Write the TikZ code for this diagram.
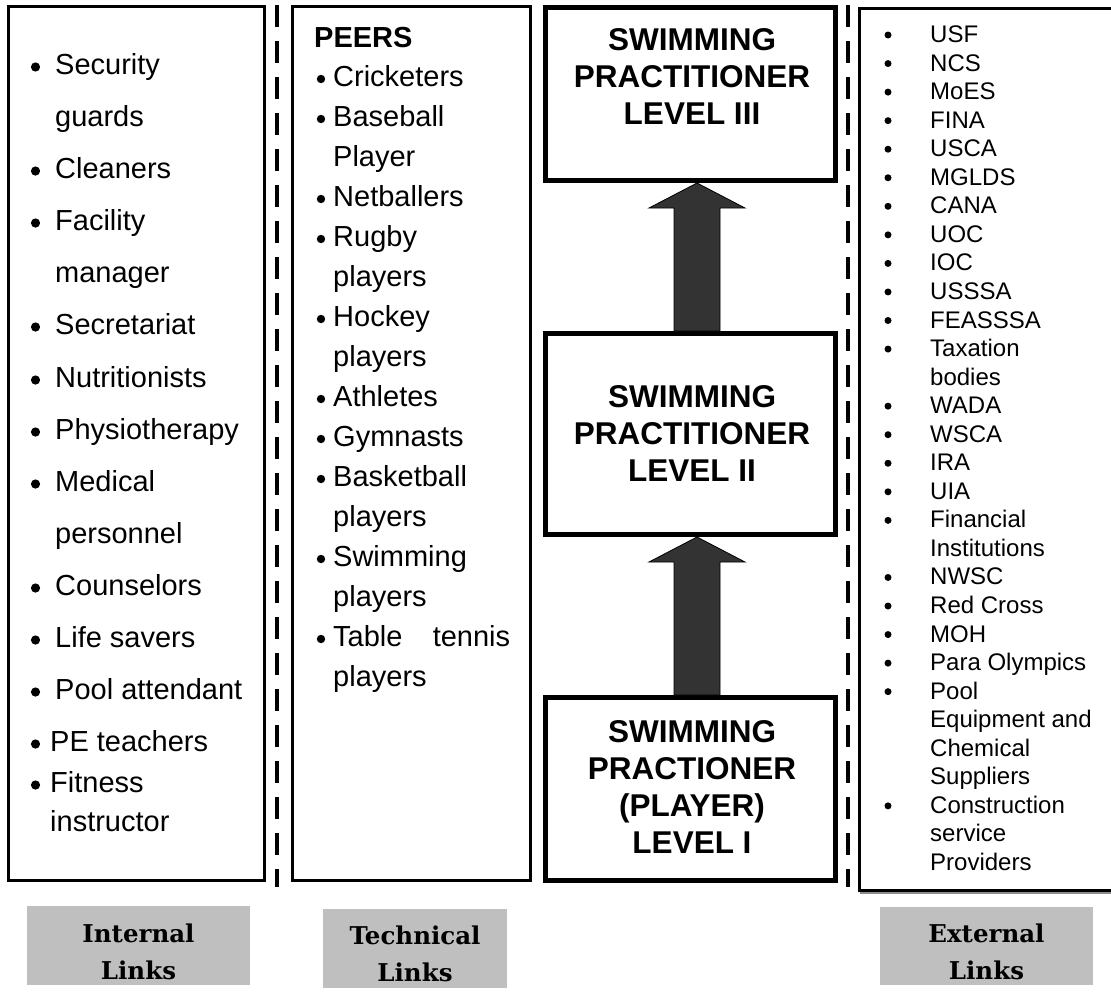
\documentclass[tikz,border=0pt]{standalone}
\usepackage{fontspec}
\setmainfont{Liberation Sans}
\newfontfamily\labfont{DejaVu Serif}
\usetikzlibrary{calc}
\begin{document}
\begin{tikzpicture}[x=1pt,y=-1pt,
  listbox/.style={draw=black,line width=3pt,fill=white,inner sep=0pt},
  lvlbox/.style={draw=black,line width=5pt,fill=white,inner sep=0pt},
  sepline/.style={line width=4.5pt,dash pattern=on 22pt off 14pt},
  uparrow/.style={draw=black,line width=0.8pt,fill=black!80},
  linkbox/.style={fill=black!25,inner sep=0pt},
  lvltext/.style={font=\fontsize{31.5}{37}\selectfont\bfseries,align=center,inner sep=0pt},
  labtext/.style={font=\labfont\bfseries\fontsize{24.5}{37}\selectfont,align=center,inner sep=0pt},
  itemL/.style={anchor=base west,inner sep=0pt,font=\fontsize{29}{34}\selectfont},
  itemM/.style={anchor=base west,inner sep=0pt,font=\fontsize{29}{34}\selectfont},
  itemR/.style={anchor=base west,inner sep=0pt,font=\fontsize{24}{28}\selectfont},
  bulletdot/.style={fill=black}
]
\useasboundingbox (0,0) rectangle (1111,991);
\fill[white] (0,0) rectangle (1111,991);

% column boxes
\node[listbox,minimum width=256pt,minimum height=874pt] (intbox) at (136.5,443.5) {};
\node[listbox,minimum width=238pt,minimum height=874pt] (techbox) at (411.5,443.5) {};
\node[listbox,minimum width=260.5pt,minimum height=882pt] (extbox) at (989.75,449.5) {};
\draw[line width=1.5pt,black!45] ([xshift=2pt,yshift=-0.75pt]extbox.south west) -- ([yshift=-0.75pt]extbox.south east);

% separators
\coordinate (s1a) at (277,5);   \coordinate (s1b) at (277,887);
\coordinate (s2a) at (848,5);   \coordinate (s2b) at (848,887);
\draw[sepline] (s1a) -- (s1b);
\draw[sepline] (s2a) -- (s2b);

% level boxes
\node[lvlbox,minimum width=290pt,minimum height=173pt] (l3) at (690.5,94) {};
\node[lvlbox,minimum width=290pt,minimum height=201pt] (l2) at (690.5,434) {};
\node[lvlbox,minimum width=290pt,minimum height=183pt] (l1) at (690.5,789) {};
\node[lvltext] (t3) at (692,76.5) {SWIMMING\\PRACTITIONER\\LEVEL III};
\node[lvltext] (t2) at (692,433.5) {SWIMMING\\PRACTITIONER\\LEVEL II};
\node[lvltext] (t1) at (692,786.5) {SWIMMING\\PRACTIONER\\(PLAYER)\\LEVEL I};

% arrows
\path[uparrow] let \p1=(l3.south), \p2=(l2.north) in
  (674pt,\y2) -- (674pt,\y1-25pt) -- (649pt,\y1-25pt) -- (697pt,\y1)
  -- (745pt,\y1-25pt) -- (720pt,\y1-25pt) -- (720pt,\y2) -- cycle;
\path[uparrow] let \p1=(l2.south), \p2=(l1.north) in
  (674pt,\y2) -- (674pt,\y1-25pt) -- (649pt,\y1-25pt) -- (697pt,\y1)
  -- (745pt,\y1-25pt) -- (720pt,\y1-25pt) -- (720pt,\y2) -- cycle;

% internal list
\foreach \cy/\tx/\bb/\xx [count=\i] in {65/Security/1/55, 117/guards/0/55, 169/Cleaners/1/55,
  221/Facility/1/55, 273/manager/0/55, 325/Secretariat/1/55, 378/Nutritionists/1/55,
  430/Physiotherapy/1/55, 482/Medical/1/55, 534/personnel/0/55, 586/Counselors/1/55,
  638/Life savers/1/55, 690/Pool attendant/1/55, 742/PE teachers/1/50, 783/Fitness/1/50,
  822/instructor/0/50}{
  \node[itemL] (int\i) at (\xx,\cy+9) {\tx};
  \ifnum\bb=1 \fill[bulletdot] (35.5,\cy+2) circle[radius=4.6pt];\fi
}

% technical list
\node[anchor=base west,inner sep=0pt,font=\fontsize{29}{34}\selectfont\bfseries] (peers) at (314,47) {PEERS};
\foreach \cy/\tx/\bb [count=\i] in {77/Cricketers/1, 117/Baseball/1, 157/Player/0,
  197/Netballers/1, 237/Rugby/1, 277/players/0, 317/Hockey/1, 357/players/0,
  397/Athletes/1, 437/Gymnasts/1, 477/Basketball/1, 517/players/0, 557/Swimming/1,
  597/players/0, 677/players/0}{
  \node[itemM] (tec\i) at (333,\cy+9) {\tx};
  \ifnum\bb=1 \fill[bulletdot] (321,\cy+2) circle[radius=4.2pt];\fi
}
\node[itemM] (tectable) at (333,646) {\makebox[177pt][s]{Table\hfill tennis}};
\fill[bulletdot] (321,639) circle[radius=4.2pt];

% external list
\foreach \kk/\bb/\tx in {0/1/USF, 1/1/NCS, 2/1/MoES, 3/1/FINA, 4/1/USCA, 5/1/MGLDS,
  6/1/CANA, 7/1/UOC, 8/1/IOC, 9/1/USSSA, 10/1/FEASSSA, 11/1/Taxation, 12/0/bodies,
  13/1/WADA, 14/1/WSCA, 15/1/IRA, 16/1/UIA, 17/1/Financial, 18/0/Institutions,
  19/1/NWSC, 20/1/Red Cross, 21/1/MOH, 22/1/Para Olympics, 23/1/Pool,
  24/0/Equipment and, 25/0/Chemical, 26/0/Suppliers, 27/1/Construction,
  28/0/service, 29/0/Providers}{
  \node[itemR] (ext\kk) at (930,{34+28.55*\kk+8.5}) {\tx};
  \ifnum\bb=1 \fill[bulletdot] (888,{34+28.55*\kk+1}) circle[radius=3.5pt];\fi
}

% link labels
\node[linkbox,minimum width=223pt,minimum height=79pt] (intlab) at (138.5,945.5) {};
\node[labtext] (intlabt) at (138.5,951.5) {Internal\\Links};
\node[linkbox,minimum width=184pt,minimum height=79pt] (teclab) at (415,948.5) {};
\node[labtext] (teclabt) at (415,954) {Technical\\Links};
\node[linkbox,minimum width=213pt,minimum height=78pt] (extlab) at (986.5,946) {};
\node[labtext] (extlabt) at (986.5,951.5) {External\\Links};
\end{tikzpicture}
\end{document}
